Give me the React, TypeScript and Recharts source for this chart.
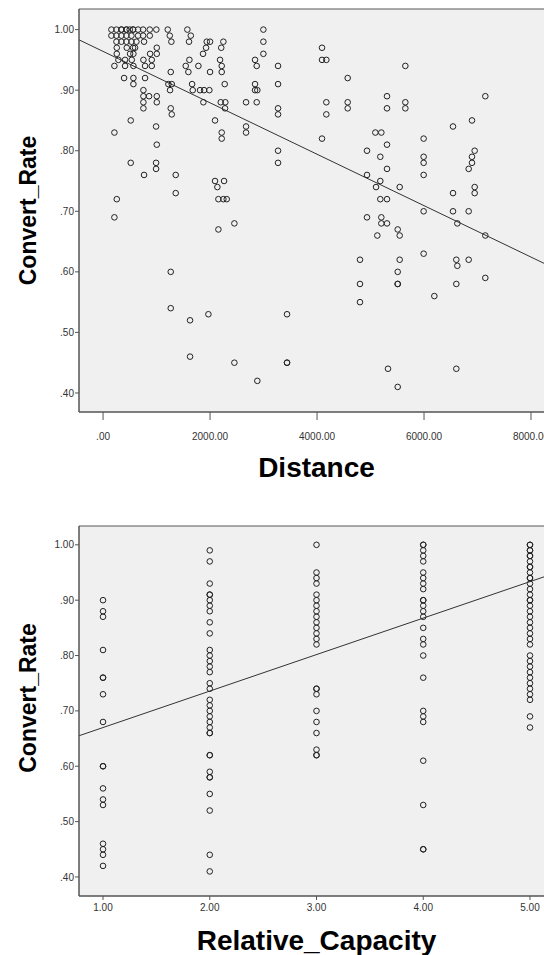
import { ScatterChart, Scatter, XAxis, YAxis, CartesianGrid, ReferenceLine, ReferenceArea, Label } from 'recharts'

// Convert_Rate level -> distances seen at that level
const distanceRows: [number, number[]][] = [
  [1.0, [156, 250, 343, 343, 437, 437, 499, 561, 561, 654, 748, 873, 996, 1209, 1576, 2997]],
  [0.99, [156, 250, 343, 437, 530, 654, 748, 873, 1247, 1640]],
  [0.98, [250, 343, 437, 530, 623, 766, 1277, 1607, 1938, 2000, 2249, 2997]],
  [0.97, [256, 443, 561, 598, 1004, 1925, 2209, 4093]],
  [0.96, [256, 505, 567, 879, 1004, 1869, 2997]],
  [0.95, [287, 411, 536, 754, 910, 1614, 2187, 2841, 4093, 4174]],
  [0.94, [212, 411, 567, 785, 910, 1545, 1782, 2218, 2872, 3271, 5651]],
  [0.93, [1265, 1595, 2000, 2218]],
  [0.92, [393, 567, 785, 4573]],
  [0.91, [567, 1221, 1284, 1664, 2274, 2841, 3271]],
  [0.9, [754, 1252, 1676, 1813, 1888, 1987, 2841, 2884]],
  [0.89, [754, 860, 1004, 5308, 7146]],
  [0.88, [754, 1004, 1875, 2200, 2286, 2673, 2872, 4174, 4573, 5651]],
  [0.87, [754, 1265, 2280, 3271, 4573, 5308, 5651]],
  [0.86, [1284, 3271, 4174]],
  [0.85, [517, 2093, 6897]],
  [0.84, [991, 2673, 6542]],
  [0.83, [212, 2218, 2673, 5090, 5202]],
  [0.82, [2218, 4093, 5993]],
  [0.81, [1004, 5308]],
  [0.8, [3271, 4934, 6947]],
  [0.79, [5183, 5993, 6897]],
  [0.78, [517, 991, 3271, 5993, 6897]],
  [0.77, [991, 5308, 6835]],
  [0.76, [766, 1358, 4934, 5993]],
  [0.75, [2093, 2262, 5183]],
  [0.74, [2137, 5103, 5545, 6947]],
  [0.73, [1358, 6542, 6947]],
  [0.72, [256, 2156, 2249, 2312, 5183, 5308]],
  [0.7, [5993, 6542, 6835]],
  [0.69, [212, 4934, 5202]],
  [0.68, [2455, 5202, 5308, 6623]],
  [0.67, [2156, 5508]],
  [0.66, [5127, 5545, 7146]],
  [0.63, [5993]],
  [0.62, [4803, 5545, 6604, 6835]],
  [0.61, [6623]],
  [0.6, [1265, 5508]],
  [0.59, [7146]],
  [0.58, [4803, 5508, 5508, 6604]],
  [0.56, [6193]],
  [0.55, [4803]],
  [0.54, [1265]],
  [0.53, [1969, 3439]],
  [0.52, [1626]],
  [0.46, [1626]],
  [0.45, [2455, 3439, 3439]],
  [0.44, [5327, 6604]],
  [0.42, [2884]],
  [0.41, [5508]],
]

// Convert_Rate values per Relative_Capacity level
const capacity1 = [0.9, 0.88, 0.87, 0.81, 0.76, 0.76, 0.73, 0.68, 0.6, 0.6, 0.56, 0.54, 0.53, 0.46, 0.45, 0.44, 0.42]
const capacity2 = [0.99, 0.97, 0.93, 0.91, 0.91, 0.9, 0.89, 0.88, 0.86, 0.84, 0.81, 0.8, 0.79, 0.78, 0.77, 0.75, 0.74, 0.72, 0.71, 0.7, 0.69, 0.68, 0.67, 0.66, 0.66, 0.62, 0.62, 0.59, 0.58, 0.58, 0.55, 0.52, 0.44, 0.41]
const capacity3 = [1.0, 0.95, 0.94, 0.93, 0.91, 0.9, 0.89, 0.88, 0.87, 0.86, 0.85, 0.84, 0.83, 0.82, 0.74, 0.74, 0.73, 0.7, 0.68, 0.66, 0.63, 0.62, 0.62]
const capacity4 = [1.0, 1.0, 0.99, 0.98, 0.97, 0.95, 0.94, 0.93, 0.92, 0.9, 0.9, 0.89, 0.88, 0.87, 0.85, 0.83, 0.82, 0.8, 0.76, 0.7, 0.69, 0.68, 0.61, 0.53, 0.45, 0.45]
const capacity5 = [1.0, 1.0, 0.99, 0.99, 0.98, 0.98, 0.97, 0.96, 0.96, 0.95, 0.94, 0.94, 0.93, 0.92, 0.91, 0.9, 0.9, 0.89, 0.88, 0.87, 0.86, 0.85, 0.84, 0.83, 0.82, 0.8, 0.79, 0.78, 0.77, 0.76, 0.75, 0.74, 0.73, 0.72, 0.69, 0.67]

// fitted lines (rate = intercept + slope * x)
const distanceFit = { intercept: 0.964, slope: -0.00004245 }
const capacityFit = { intercept: 0.604, slope: 0.0659 }

const rateTicks = [0.4, 0.5, 0.6, 0.7, 0.8, 0.9, 1.0]
const distanceTicks = [0, 2000, 4000, 6000, 8000]
const capacityTicks = [1, 2, 3, 4, 5]

const distanceDomain: [number, number] = [-450, 8430]
const capacityDomain: [number, number] = [0.775, 5.225]
const rateDomainTop: [number, number] = [0.3686, 1.034]
const rateDomainBottom: [number, number] = [0.3656, 1.034]

const font = 'Arial, "Liberation Sans", sans-serif'
const frame = '#555'

const distancePoints = distanceRows.flatMap(([rate, ds]) => ds.map(d => ({ x: d, y: rate })))
const capacityPoints = [capacity1, capacity2, capacity3, capacity4, capacity5].flatMap((rates, i) =>
  rates.map(r => ({ x: i + 1, y: r }))
)

const fmt = (v: number) => v.toFixed(2).replace(/^0/, '')

function Ring(p: any) {
  if (p.cx == null || p.cy == null) return null
  return <circle cx={p.cx} cy={p.cy} r={2.8} fill="none" stroke="#222" strokeWidth={1} />
}

function yTitle(shift: number) {
  return ({ viewBox }: any) => {
    const cx = 28
    const cy = viewBox.y + viewBox.height / 2 + shift
    return (
      <text
        x={cx}
        y={cy}
        transform={`rotate(-90 ${cx} ${cy})`}
        textAnchor="middle"
        dy="0.36em"
        style={{ fontFamily: font, fontSize: 23, fontWeight: 'bold', fill: '#000' }}
      >
        Convert_Rate
      </text>
    )
  }
}

type PanelProps = {
  top: number
  height: number
  data: { x: number; y: number }[]
  xDomain: [number, number]
  yDomain: [number, number]
  xTicks: number[]
  xFormat: (v: number) => string
  xTitle: string
  xTickSize: number
  xTickMargin: number
  xAxisHeight: number
  titleOffset: number
  yShift: number
  fit: { intercept: number; slope: number }
}

function Panel(p: PanelProps) {
  const [x0, x1] = p.xDomain
  const line = (x: number) => p.fit.intercept + p.fit.slope * x
  return (
    <div style={{ position: 'absolute', left: 0, top: p.top }}>
      <ScatterChart width={560} height={p.height} margin={{ top: 9, right: 6, bottom: 0, left: 0 }}>
        <CartesianGrid fill="#f0f0f0" stroke="none" horizontal={false} vertical={false} />
        <XAxis
          type="number"
          dataKey="x"
          domain={p.xDomain}
          allowDataOverflow
          ticks={p.xTicks}
          interval={0}
          tickFormatter={p.xFormat}
          height={p.xAxisHeight}
          tickSize={p.xTickSize}
          tickMargin={p.xTickMargin}
          axisLine={{ stroke: frame }}
          tickLine={{ stroke: frame }}
          tick={{ fontSize: 10, fill: '#333', fontFamily: font }}
        >
          <Label
            value={p.xTitle}
            position="insideBottom"
            offset={p.titleOffset}
            style={{ fontFamily: font, fontSize: 28, fontWeight: 'bold', fill: '#000' }}
          />
        </XAxis>
        <YAxis
          type="number"
          dataKey="y"
          domain={p.yDomain}
          allowDataOverflow
          ticks={rateTicks}
          interval={0}
          tickFormatter={fmt}
          width={79}
          tickSize={4}
          tickMargin={1}
          axisLine={{ stroke: frame }}
          tickLine={{ stroke: frame }}
          tick={{ fontSize: 10, fill: '#333', fontFamily: font }}
        >
          <Label content={yTitle(p.yShift)} />
        </YAxis>
        <ReferenceArea x1={x0} x2={x1} y1={p.yDomain[0]} y2={p.yDomain[1]} fill="none" stroke={frame} strokeWidth={1} ifOverflow="visible" />
        <ReferenceLine
          segment={[{ x: x0, y: line(x0) }, { x: x1, y: line(x1) }]}
          stroke="#333"
          strokeWidth={1}
          ifOverflow="hidden"
        />
        <Scatter data={p.data} shape={Ring} isAnimationActive={false} />
      </ScatterChart>
    </div>
  )
}

export default function App() {
  return (
    <div style={{ position: 'fixed', left: 0, top: 0, width: 544, height: 955, overflow: 'hidden', background: '#fff' }}>
      <Panel
        top={0}
        height={495}
        data={distancePoints}
        xDomain={distanceDomain}
        yDomain={rateDomainTop}
        xTicks={distanceTicks}
        xFormat={fmt}
        xTitle="Distance"
        xTickSize={8}
        xTickMargin={13}
        xAxisHeight={83}
        titleOffset={18}
        yShift={0}
        fit={distanceFit}
      />
      <Panel
        top={517}
        height={438}
        data={capacityPoints}
        xDomain={capacityDomain}
        yDomain={rateDomainBottom}
        xTicks={capacityTicks}
        xFormat={v => v.toFixed(2)}
        xTitle="Relative_Capacity"
        xTickSize={4}
        xTickMargin={4}
        xAxisHeight={59}
        titleOffset={5}
        yShift={-13}
        fit={capacityFit}
      />
    </div>
  )
}
